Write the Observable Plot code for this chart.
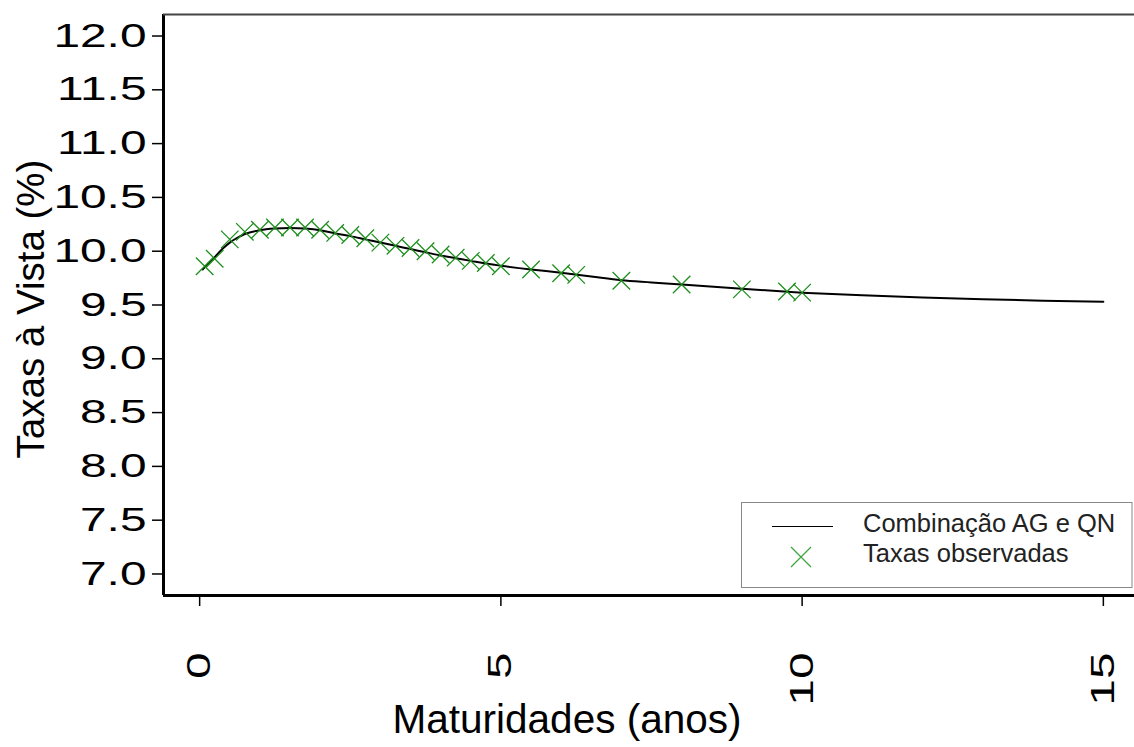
<!DOCTYPE html>
<html><head><meta charset="utf-8">
<script src="https://cdn.jsdelivr.net/npm/d3@7"></script>
<script src="https://cdn.jsdelivr.net/npm/@observablehq/plot@0.6"></script>
<style>body{margin:0;background:#fff} svg{display:block}</style>
</head><body><div id="chart"></div>
<script>
// Fitted curve (Combinação AG e QN)
const curveMaturities = [0.05, 0.125, 0.25, 0.375, 0.5, 0.625, 0.75, 1, 1.25, 1.5, 1.75, 2, 2.25, 2.5, 2.75, 3, 3.25, 3.5, 3.75, 4, 4.25, 4.5, 4.75, 5, 5.5, 6, 6.5, 7, 7.5, 8, 9, 10, 11, 12, 13, 14, 15];
const curveRates = [9.83, 9.875, 9.945, 10.02, 10.08, 10.125, 10.16, 10.195, 10.21, 10.215, 10.21, 10.195, 10.165, 10.14, 10.11, 10.08, 10.05, 10.02, 9.99, 9.96, 9.935, 9.91, 9.885, 9.865, 9.83, 9.80, 9.765, 9.73, 9.71, 9.69, 9.65, 9.615, 9.59, 9.57, 9.553, 9.54, 9.53];
// Observed spot rates
const obsMaturities = [0.083, 0.25, 0.5, 0.75, 1, 1.25, 1.5, 1.75, 2, 2.25, 2.5, 2.75, 3, 3.25, 3.5, 3.75, 4, 4.25, 4.5, 4.75, 5, 5.5, 6, 6.25, 7, 8, 9, 9.75, 10];
const obsRates = [9.86, 9.93, 10.11, 10.18, 10.2, 10.22, 10.22, 10.22, 10.2, 10.17, 10.15, 10.12, 10.08, 10.05, 10.03, 10.0, 9.97, 9.94, 9.91, 9.89, 9.86, 9.83, 9.795, 9.78, 9.725, 9.69, 9.645, 9.625, 9.615];
const xTicks = [0, 5, 10, 15];
const yTicks = [7, 7.5, 8, 8.5, 9, 9.5, 10, 10.5, 11, 11.5, 12];
const xTitle = "Maturidades (anos)";
const yTitle = "Taxas à Vista (%)";
const legendLabels = ["Combinação AG e QN", "Taxas observadas"];

const curve = curveMaturities.map((m, i) => ({m, r: curveRates[i]}));
const obs = obsMaturities.map((m, i) => ({m, r: obsRates[i]}));
const xDomain = [-0.6, 15.6];
const yDomain = [6.8, 12.2];

const plot = Plot.plot({
  width: 1134, height: 747,
  marginLeft: 163, marginRight: -5, marginTop: 14, marginBottom: 152,
  style: {fontFamily: "'Liberation Sans', Arial, sans-serif", background: "#fff", color: "#000"},
  x: {domain: xDomain},
  y: {domain: yDomain},
  marks: [
    Plot.axisY({ticks: yTicks, tickSize: 11, tickPadding: 6, fontSize: 33, tickFormat: d => d.toFixed(1), label: null, strokeWidth: 1.5}),
    Plot.axisX({ticks: xTicks, tickSize: 11, tickRotate: -90, tickPadding: 46, fontSize: 33, label: null, strokeWidth: 1.5}),
    Plot.line(curve, {x: "m", y: "r", stroke: "#000", strokeWidth: 2, curve: "monotone-x"}),
    Plot.dot(obs, {x: "m", y: "r", symbol: "times", r: 8, stroke: "#1e8f1e", strokeWidth: 1.3}),
    Plot.ruleX([xDomain[0]], {stroke: "#000", strokeWidth: 3}),
    Plot.ruleY([yDomain[0]], {stroke: "#000", strokeWidth: 3}),
    Plot.ruleY([yDomain[1]], {stroke: "#444", strokeWidth: 2})
  ]
});
document.getElementById("chart").append(plot);
const svg = d3.select(plot);
svg.selectAll('g[aria-label="y-axis tick label"] text, g[aria-label="x-axis tick label"] text').each(function() {
  const L = this.getComputedTextLength();
  this.setAttribute("textLength", L * 1.45);
  this.setAttribute("lengthAdjust", "spacingAndGlyphs");
});
// axis titles
svg.append("text").attr("x", 567).attr("y", 733).attr("text-anchor", "middle")
  .attr("font-size", 40).attr("fill", "#000").attr("textLength", 349).attr("lengthAdjust", "spacingAndGlyphs").text(xTitle);
svg.append("text").attr("transform", "translate(44,309) rotate(-90)").attr("text-anchor", "middle")
  .attr("font-size", 38.5).attr("fill", "#000").text(yTitle);
// legend
const lg = svg.append("g").attr("text-anchor", "start");
lg.append("rect").attr("x", 741.5).attr("y", 502.5).attr("width", 390.5).attr("height", 85)
  .attr("fill", "#fff").attr("stroke", "#888").attr("stroke-width", 1);
lg.append("line").attr("x1", 772).attr("x2", 833).attr("y1", 526.5).attr("y2", 526.5).attr("stroke", "#000").attr("stroke-width", 1.2);
lg.append("path").attr("d", "M791,547L811,567M791,567L811,547").attr("stroke", "#3aa53a").attr("stroke-width", 1.2).attr("fill", "none");
lg.append("text").attr("x", 863).attr("y", 532).attr("text-anchor", "start").attr("font-size", 25.5).attr("fill", "#222").text(legendLabels[0]);
lg.append("text").attr("x", 863).attr("y", 562).attr("text-anchor", "start").attr("font-size", 25.5).attr("fill", "#222").text(legendLabels[1]);
</script>
</body></html>
